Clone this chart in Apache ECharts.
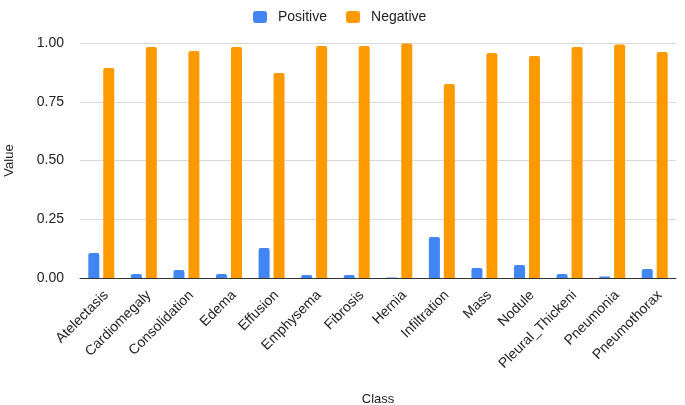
<!DOCTYPE html>
<html>
<head>
<meta charset="utf-8">
<script src="https://cdn.jsdelivr.net/npm/echarts@6/dist/echarts.min.js"></script>
<style>html,body{margin:0;padding:0;background:#fff;}#c{width:685px;height:405px;}</style>
</head>
<body>
<div id="c"></div>
<script>
const categories = ["Atelectasis","Cardiomegaly","Consolidation","Edema","Effusion","Emphysema","Fibrosis","Hernia","Infiltration","Mass","Nodule","Pleural_Thickeni","Pneumonia","Pneumothorax"];
const positive = [0.106,0.017,0.034,0.017,0.128,0.013,0.013,0.002,0.174,0.043,0.055,0.017,0.006,0.038];
const negative = [0.894,0.983,0.966,0.983,0.872,0.987,0.987,0.998,0.826,0.957,0.945,0.983,0.994,0.962];
const yTicks = [0, 0.25, 0.5, 0.75, 1];

const chart = echarts.init(document.getElementById('c'), null, {renderer:'canvas'});
const font = 'Liberation Sans, Arial, sans-serif';
chart.setOption({
  animation: false,
  textStyle: {fontFamily: font},
  legend: {
    left: 248, top: 5,
    itemWidth: 14, itemHeight: 12, itemGap: 19,
    icon: 'roundRect',
    textStyle: {fontSize: 14, color: '#222', fontFamily: font, padding: [0,0,0,6]},
    data: ['Positive','Negative']
  },
  grid: {left: 80, right: 9, top: 43, bottom: 127, outerBoundsMode: 'none', containLabel: false},
  xAxis: {
    type: 'category',
    data: categories,
    name: 'Class',
    nameLocation: 'middle',
    nameGap: 115,
    nameTextStyle: {fontSize: 13, color: '#222', fontFamily: font},
    axisLine: {lineStyle: {color: '#333', width: 1}},
    axisTick: {show: false},
    axisLabel: {rotate: 45, interval: 0, fontSize: 14, color: '#222', margin: 10, verticalAlign: 'top', fontFamily: font}
  },
  yAxis: {
    type: 'value',
    min: yTicks[0], max: yTicks[yTicks.length-1], interval: 0.25,
    name: 'Value',
    nameLocation: 'middle',
    nameGap: 64,
    nameTextStyle: {fontSize: 13, color: '#222', fontFamily: font},
    axisLine: {show: false},
    axisTick: {show: false},
    axisLabel: {fontSize: 14, color: '#222', margin: 16, fontFamily: font, formatter: v => v.toFixed(2)},
    splitLine: {lineStyle: {color: '#d9d9d9'}}
  },
  series: [
    {name: 'Positive', type: 'bar', data: positive, barWidth: 11, barGap: '36%',
     itemStyle: {color: '#4285F4', borderRadius: [2,2,0,0]}},
    {name: 'Negative', type: 'bar', data: negative, barWidth: 11,
     itemStyle: {color: '#FF9900', borderRadius: [2,2,0,0]}}
  ]
});
</script>
</body>
</html>
